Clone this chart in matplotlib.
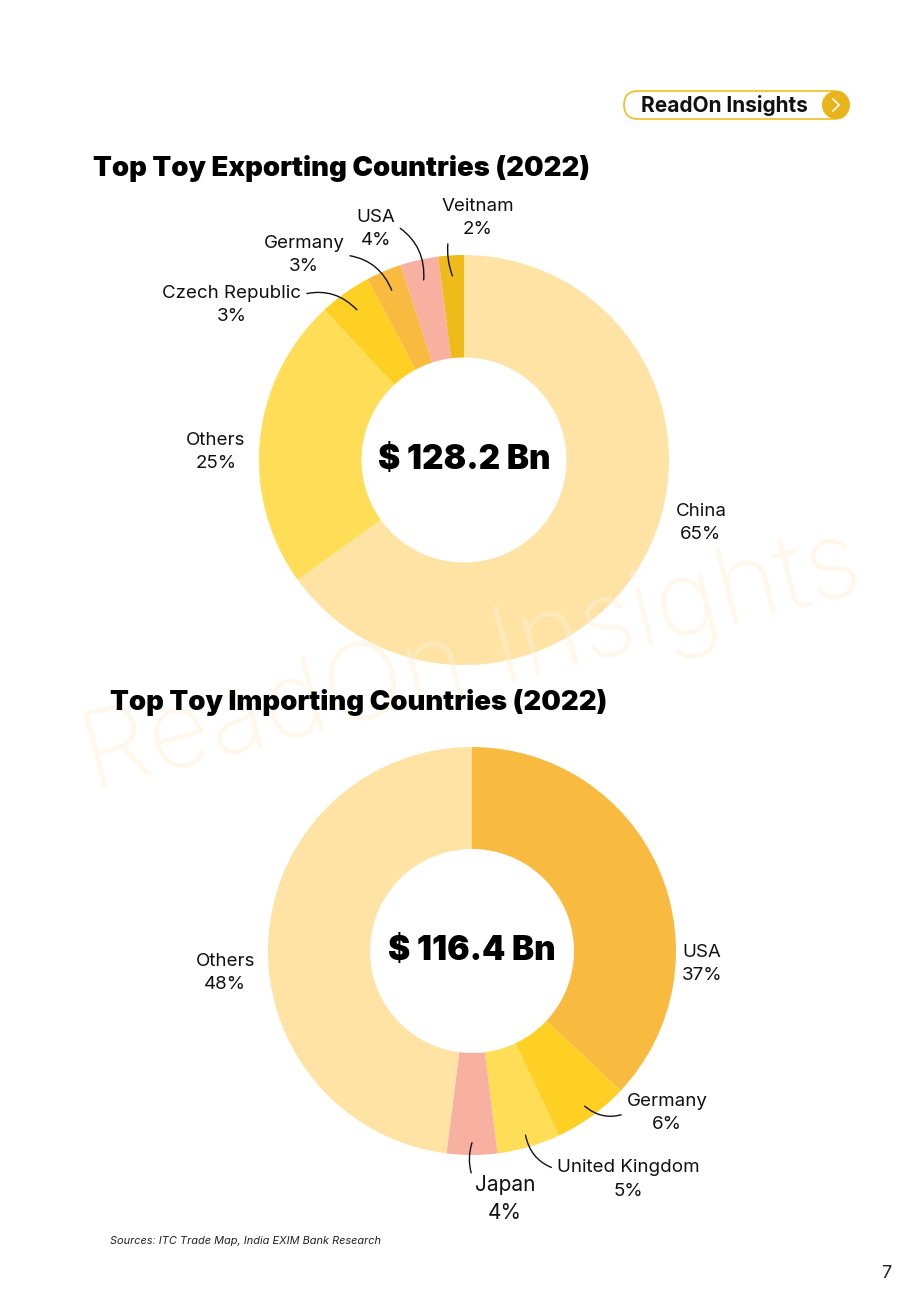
import numpy as np
import matplotlib
matplotlib.use("Agg")
import matplotlib.pyplot as plt
from matplotlib.patches import FancyBboxPatch, Circle

plt.rcParams['font.family'] = ['Inter', 'DejaVu Sans']

# export chart data (slice sizes, shown % from labels)
exp_names = ["China", "Others", "Czech Republic", "Germany", "USA", "Veitnam"]
exp_values = [65.0, 23.0, 4.1, 2.8, 3.0, 2.0]
exp_shown = ["65%", "25%", "3%", "3%", "4%", "2%"]
exp_colors = ["#FEE3A5", "#FFDD57", "#FDD023", "#F9BA40", "#F8B0A0", "#EEBB1B"]
exp_total = "$ 128.2 Bn"

# import chart data
imp_names = ["USA", "Germany", "United Kingdom", "Japan", "Others"]
imp_values = [37, 6, 5, 4, 48]
imp_shown = ["37%", "6%", "5%", "4%", "48%"]
imp_colors = ["#F9BA40", "#FDD023", "#FFDD57", "#F8B0A0", "#FEE3A5"]
imp_total = "$ 116.4 Bn"

W, H = 920, 1302
fig = plt.figure(figsize=(W / 100, H / 100), dpi=100)

# background / decoration axes in pixel coords
bg = fig.add_axes([0, 0, 1, 1])
bg.set_xlim(0, W)
bg.set_ylim(H, 0)
bg.axis('off')
px = bg.transData

# watermark sits over the donuts but under the titles
fig.text(472, 664, "ReadOn Insights", transform=px, fontsize=77, color="#FFF0D4",
         alpha=0.5, rotation=14.5, ha='center', va='center', fontweight='light',
         zorder=2)

badge = FancyBboxPatch((624, 91), 224, 28, boxstyle="round,pad=0,rounding_size=14",
                       fc='white', ec='#F0C020', lw=1.2)
bg.add_patch(badge)
bg.add_patch(Circle((836, 105), 14, fc='#E8B41B', ec='none'))
bg.plot([833, 839, 833], [99, 105, 111], color='white', lw=1.2)
bg.text(724, 106, "ReadOn Insights", fontsize=15, fontweight='bold',
        ha='center', va='center', color='#111111')

fig.text(93, 168, "Top Toy Exporting Countries (2022)", transform=px, fontsize=19.8,
         fontweight='black', ha='left', va='center', color='black', zorder=5)
fig.text(110, 702, "Top Toy Importing Countries (2022)", transform=px, fontsize=19.8,
         fontweight='black', ha='left', va='center', color='black', zorder=5)
bg.text(110, 1241, "Sources: ITC Trade Map, India EXIM Bank Research", fontsize=7.9,
        style='italic', ha='left', va='center', color='#222222')
bg.text(886, 1273, "7", fontsize=13, ha='center', va='center', color='#222222')


def pie_axes(cx, cy, r, lim=1.6):
    w = 2 * lim * r
    return fig.add_axes([(cx - w / 2) / W, (H - cy - w / 2) / H, w / W, w / H])


def donut(ax, values, colors, total):
    wedges, _ = ax.pie(values, colors=colors, startangle=90, counterclock=False,
                       radius=1, wedgeprops=dict(width=0.5, edgecolor='none'))
    ax.set_xlim(-1.6, 1.6)
    ax.set_ylim(-1.6, 1.6)
    ax.set_aspect('equal')
    ax.axis('off')
    ax.text(0, 0, total, fontsize=24, fontweight='black', ha='center',
            va='center', color='black')
    return wedges


def label(ax, wedge, text, pos, relpos=None, rad=0.0, r_in=0.9, fs=13.5):
    if relpos is None:
        ax.text(pos[0], pos[1], text, fontsize=fs, ha='center', va='center',
                linespacing=1.5, color='#111111', zorder=6)
        return
    mid = np.deg2rad((wedge.theta1 + wedge.theta2) / 2)
    xy = (r_in * np.cos(mid), r_in * np.sin(mid))
    ax.annotate(text, xy=xy, xytext=pos, fontsize=fs, ha='center', va='center',
                linespacing=1.5, color='#111111', annotation_clip=False,
                arrowprops=dict(arrowstyle='-', color='#111111', lw=1.0,
                                connectionstyle=f"arc3,rad={rad}",
                                relpos=relpos, shrinkA=2, shrinkB=0))


# export donut
ax1 = pie_axes(464, 460, 205)
w1 = donut(ax1, exp_values, exp_colors, exp_total)
exp_pos = [(1.156, -0.307), (-1.21, 0.039), (-1.132, 0.756),
           (-0.78, 1.0), (-0.43, 1.127), (0.068, 1.18)]
exp_rel = [None, None, (1, 0.75), (1, 0.5), (1, 0.6), (0.17, 0.45)]
exp_rad = [0, 0, -0.3, -0.3, -0.3, 0.2]
for i in range(len(exp_names)):
    label(ax1, w1[i], exp_names[i] + "\n" + exp_shown[i], exp_pos[i],
          exp_rel[i], exp_rad[i], 0.9)

# import donut
ax2 = pie_axes(472, 951, 204)
w2 = donut(ax2, imp_values, imp_colors, imp_total)
imp_pos = [(1.127, -0.064), (0.956, -0.794), (0.765, -1.12),
           (0.162, -1.216), (-1.21, -0.108)]
imp_rel = [None, (0, 0.5), (0, 0.75), (0, 0.85), None]
imp_rad = [0, -0.3, -0.3, -0.2, 0]
imp_fs = [13.5, 13.5, 13.5, 15, 13.5]
for i in range(len(imp_names)):
    label(ax2, w2[i], imp_names[i] + "\n" + imp_shown[i], imp_pos[i],
          imp_rel[i], imp_rad[i], 0.94, imp_fs[i])

plt.savefig("out.png", dpi=100)
plt.close()
